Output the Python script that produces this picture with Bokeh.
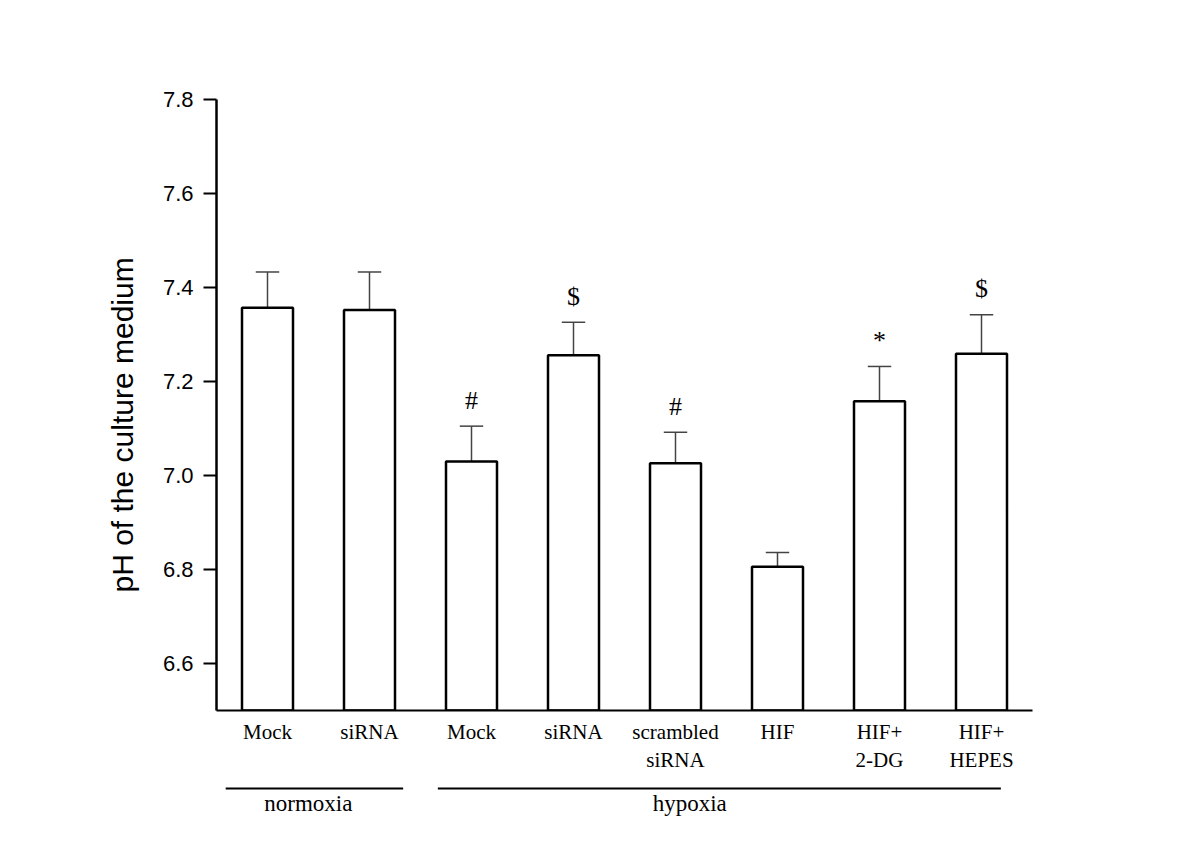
from bokeh.plotting import figure
from bokeh.models import Range1d, FixedTicker, NumeralTickFormatter, ColumnDataSource, Title
from bokeh.layouts import column
from bokeh.core.properties import value
from bokeh.embed import file_html
from bokeh.resources import INLINE

# ---- data ----
labels = ["Mock", "siRNA", "Mock", "siRNA", "scrambled\nsiRNA", "HIF", "HIF+\n2-DG", "HIF+\nHEPES"]
means = [7.357, 7.352, 7.030, 7.256, 7.026, 6.806, 7.158, 7.259]
sem = [0.076, 0.081, 0.075, 0.070, 0.066, 0.030, 0.074, 0.083]
marks = ["", "", "#", "$", "#", "", "*", "$"]
y_ticks = [6.6, 6.8, 7.0, 7.2, 7.4, 7.6, 7.8]
y_title = "pH of the culture medium"
group_names = ["normoxia", "hypoxia"]
group_start = [-0.41, 1.67]
group_end = [1.33, 7.19]
group_label_x = [0.40, 4.14]

xs = list(range(len(labels)))
tops = [m + e for m, e in zip(means, sem)]

src = ColumnDataSource(dict(x=xs, mean=means, top=tops, mark=marks,
                            xl=[x - 0.115 for x in xs], xr=[x + 0.115 for x in xs]))

x_range = Range1d(-0.5, 7.5)
p = figure(width=1100, height=780, x_range=x_range, y_range=Range1d(6.5, 7.8),
           output_backend="svg", toolbar_location=None,
           min_border_left=216, min_border_right=68, min_border_top=99, min_border_bottom=70)
p.outline_line_color = None
p.xgrid.visible = False
p.ygrid.visible = False
p.background_fill_color = "white"

# error bars
p.segment(x0="x", y0="mean", x1="x", y1="top", source=src, line_color="#444444", line_width=1.5)
p.segment(x0="xl", y0="top", x1="xr", y1="top", source=src, line_color="#444444", line_width=1.5)
# bars
p.vbar(x="x", top="mean", bottom=6.5, width=0.5, source=src,
       fill_color="white", line_color="black", line_width=2.5)
# significance marks
p.text(x="x", y="top", text="mark", source=src, y_offset=-26,
       text_align="center", text_baseline="alphabetic",
       text_font=value("Liberation Serif"), text_font_size="26px", text_color="black")

# y axis
yax = p.yaxis[0]
yax.ticker = FixedTicker(ticks=y_ticks)
yax.formatter = NumeralTickFormatter(format="0.0")
yax.minor_tick_line_color = None
yax.major_tick_out = 13
yax.major_tick_in = 0
yax.major_tick_line_width = 2
yax.axis_line_width = 2.5
yax.major_label_text_font = "Liberation Sans"
yax.major_label_text_font_size = "22px"
yax.major_label_text_color = "black"
yax.major_label_standoff = 10

ytitle = Title(text=y_title, align="left", offset=118, standoff=42,
               text_font="Liberation Sans", text_font_size="30px",
               text_font_style="normal", text_color="black")
p.add_layout(ytitle, "left")

# x axis
xax = p.xaxis[0]
xax.ticker = FixedTicker(ticks=xs)
xax.major_label_overrides = {x: lab for x, lab in zip(xs, labels)}
xax.major_tick_line_color = None
xax.minor_tick_line_color = None
xax.axis_line_width = 2
xax.major_label_text_font = "Liberation Serif"
xax.major_label_text_font_size = "21px"
xax.major_label_text_color = "black"
xax.major_label_standoff = 3

# group brackets below
p2 = figure(width=1100, height=50, x_range=x_range, y_range=Range1d(50, 0),
            output_backend="svg", toolbar_location=None,
            min_border_left=216, min_border_right=68, min_border_top=0, min_border_bottom=0)
p2.axis.visible = False
p2.grid.visible = False
p2.outline_line_color = None
gsrc = ColumnDataSource(dict(x0=group_start, x1=group_end, lx=group_label_x, name=group_names))
p2.segment(x0="x0", y0=8, x1="x1", y1=8, source=gsrc, line_color="black", line_width=2)
p2.text(x="lx", y=23, text="name", source=gsrc, text_align="center", text_baseline="alphabetic",
        text_font=value("Liberation Serif"), text_font_size="23px", text_color="black")

layout = column(p, p2, spacing=0)
open("out.html", "w").write(file_html(layout, INLINE))
